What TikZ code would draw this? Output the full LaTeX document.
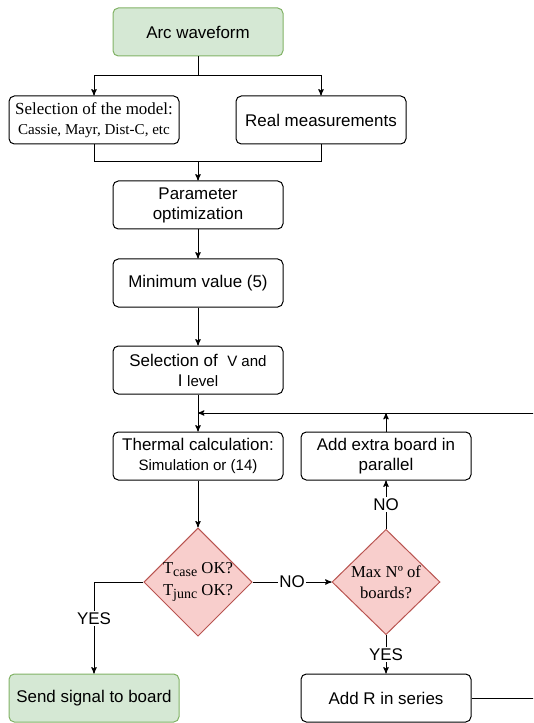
\documentclass[tikz,border=0pt]{standalone}
\usepackage{fontspec}
\setmainfont{Liberation Sans}
\newfontfamily\tms{Liberation Serif}
\usepackage{tikz}
\usetikzlibrary{arrows}
\usetikzlibrary{shapes.geometric}
\definecolor{lgreen}{RGB}{213,232,212}
\definecolor{dgreen}{RGB}{130,179,102}
\definecolor{lred}{RGB}{248,206,204}
\definecolor{dred}{RGB}{184,84,80}

\begin{document}
\begin{tikzpicture}[x=0.75pt,y=-0.75pt,->,>=stealth',line width=0.75pt]
  \tikzstyle{every node}=[font=\fontsize{12.7}{15}\selectfont]
  \tikzstyle{box}=[draw=black,rounded corners=4pt,minimum width=127.5pt,minimum height=36pt,align=center,inner sep=1pt]
  \tikzstyle{gbox}=[box,fill=lgreen,draw=dgreen]
  \tikzstyle{test}=[diamond,draw=dred,fill=lred,minimum width=81pt,minimum height=79pt,inner sep=0pt,align=center,font=\tms\fontsize{12.5}{16}\selectfont]
  \tikzstyle{lbl}=[fill=white,inner sep=1pt]
  \clip (0,0) rectangle (533,723);
  \node [gbox] (a) at (198,32) {Arc waveform};
  \node [box] (m) at (94,120) {{\tms Selection of the model:}\\{\tms\fontsize{11.3}{13}\selectfont Cassie, Mayr, Dist-C, etc}};
  \node [box] (r) at (321,120) {Real measurements};
  \node [box] (p) at (198,205) {Parameter\\optimization};
  \node [box] (v) at (198,283) {Minimum value (5)};
  \node [box] (s) at (198,370) {Selection of \ {\fontsize{11.3}{13}\selectfont V and}\\I {\fontsize{11.3}{13}\selectfont level}};
  \node [box] (t) at (198,456) {Thermal calculation:\\{\fontsize{11.3}{13}\selectfont Simulation or (14)}};
  \node [box] (e) at (386,456) {Add extra board in\\parallel};
  \node [test] (d1) at (198,582) {T\raisebox{-0.4ex}{\fontsize{10.5}{11}\selectfont case} OK?\\T\raisebox{-0.4ex}{\fontsize{10.5}{11}\selectfont junc} OK?};
  \node [test] (d2) at (386,582) {Max Nº of\\boards?};
  \node [gbox] (g) at (94,698) {Send signal to board};
  \node [box] (q) at (386,698) {Add R in series};
  \coordinate (split) at (198,76);
  \coordinate (join) at (198,162);
  \coordinate (back) at (198,413);
  \coordinate (c1) at (550,698);
  \coordinate (c2) at (550,413);
  \draw [-] (a) -- (split);
  \draw (split) -| (m);
  \draw (split) -| (r);
  \draw [-] (m.south) |- (join);
  \draw [-] (r.south) |- (join);
  \draw (join) -- (p);
  \draw (p) -- (v);
  \draw (v) -- (s);
  \draw (s) -- (t);
  \draw (q.east) -- (c1) -- (c2) -- (back);
  \draw (e.north) -- (e.north |- back);
  \draw (t) -- (d1);
  \draw (d1.west) -| node [lbl,pos=0.7] {YES} (g.north);
  \draw (d1.east) -- node [lbl] {NO} (d2.west);
  \draw (d2.north) -- node [lbl] {NO} (e.south);
  \draw (d2.south) -- node [lbl] {YES} (q.north);
\end{tikzpicture}
\end{document}
